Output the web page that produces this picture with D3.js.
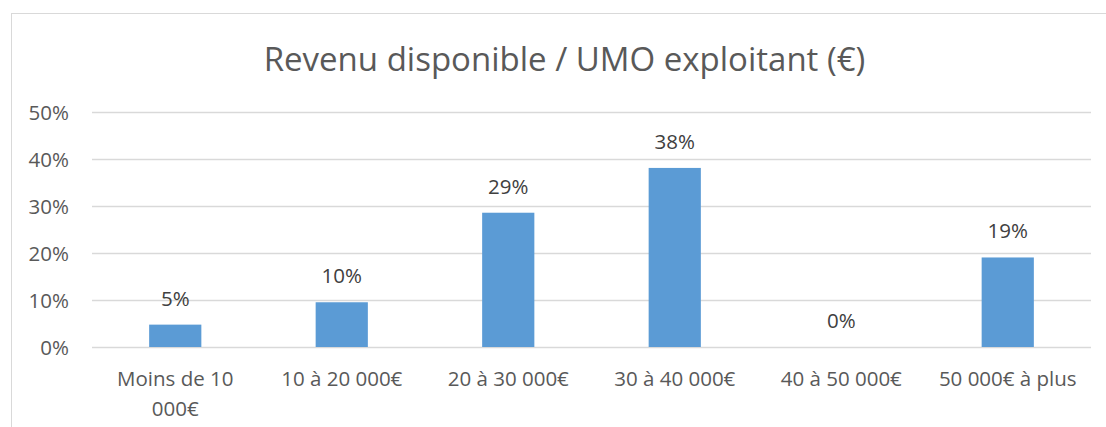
<!DOCTYPE html>
<html>
<head>
<meta charset="utf-8">
<script src="https://cdn.jsdelivr.net/npm/d3@7"></script>
<style>
  body { margin: 0; background: #fff; }
  svg { display: block; }
  text { font-family: "Open Sans", "Noto Sans", sans-serif; }
</style>
</head>
<body>
<div id="app"></div>
<script>
const title = "Revenu disponible / UMO exploitant (€)";
const categories = ["Moins de 10 000€", "10 à 20 000€", "20 à 30 000€", "30 à 40 000€", "40 à 50 000€", "50 000€ à plus"];
const shares = [0.0476, 0.0952, 0.2857, 0.3810, 0, 0.1905];
const yTicks = [0, 0.1, 0.2, 0.3, 0.4, 0.5];

const width = 1106, height = 427;
const plot = { left: 92, right: 1091, top: 112, bottom: 347 };
const gap = 2.19; // excel gap width

const svg = d3.select("#app").append("svg")
  .attr("width", width)
  .attr("height", height);

// chart frame
svg.append("rect")
  .attr("x", 11.5)
  .attr("y", 13.5)
  .attr("width", 1120)
  .attr("height", 430)
  .attr("fill", "#fff")
  .attr("stroke", "#d9d9d9")
  .attr("stroke-width", 1);

svg.append("text")
  .attr("x", 564.5)
  .attr("y", 71)
  .attr("text-anchor", "middle")
  .attr("fill", "#595959")
  .style("font-size", "33px")
  .text(title);

const x = d3.scaleBand()
  .domain(categories)
  .range([plot.left, plot.right])
  .paddingInner(gap / (1 + gap))
  .paddingOuter(gap / (1 + gap) / 2);

const y = d3.scaleLinear()
  .domain([0, 0.5])
  .range([plot.bottom, plot.top]);

const fmt = d3.format(".0%");

// y axis + gridlines
const yAxis = svg.append("g")
  .attr("transform", `translate(${plot.left},0)`)
  .call(d3.axisLeft(y)
    .tickValues(yTicks)
    .tickFormat(fmt)
    .tickSize(-(plot.right - plot.left))
    .tickPadding(23));

yAxis.select(".domain").remove();
yAxis.selectAll(".tick line")
  .attr("stroke", "#d9d9d9")
  .attr("stroke-width", 1.3);
yAxis.selectAll(".tick text")
  .attr("fill", "#595959")
  .style("font-size", "20.5px")
  .attr("dy", "0.36em");

// bars
svg.append("g")
  .selectAll("rect")
  .data(shares)
  .join("rect")
  .attr("x", (d, i) => x(categories[i]))
  .attr("y", d => y(d))
  .attr("width", x.bandwidth())
  .attr("height", d => y(0) - y(d))
  .attr("fill", "#5b9bd5");

// data labels
svg.append("g")
  .selectAll("text")
  .data(shares)
  .join("text")
  .attr("x", (d, i) => x(categories[i]) + x.bandwidth() / 2)
  .attr("y", d => y(d) - 19)
  .attr("text-anchor", "middle")
  .attr("fill", "#404040")
  .style("font-size", "20.5px")
  .text(d => fmt(d));

// category axis
const xAxis = svg.append("g")
  .attr("transform", `translate(0,${plot.bottom})`)
  .call(d3.axisBottom(x).tickSize(0).tickPadding(0));

xAxis.select(".domain").remove();

const step = x.step();
xAxis.selectAll(".tick text")
  .attr("fill", "#595959")
  .style("font-size", "20.5px")
  .attr("y", 0)
  .attr("dy", null)
  .each(function(label) {
    const t = d3.select(this);
    t.text(null);
    const words = label.split(" ");
    const lines = [];
    let line = [];
    const probe = t.append("tspan");
    words.forEach(w => {
      const test = line.concat(w).join(" ");
      probe.text(test);
      if (line.length && probe.node().getComputedTextLength() > step - 10) {
        lines.push(line.join(" "));
        line = [w];
      } else {
        line.push(w);
      }
    });
    lines.push(line.join(" "));
    probe.remove();
    lines.forEach((l, i) => {
      t.append("tspan")
        .attr("x", 0)
        .attr("y", 39 + i * 30)
        .text(l);
    });
  });
</script>
</body>
</html>
